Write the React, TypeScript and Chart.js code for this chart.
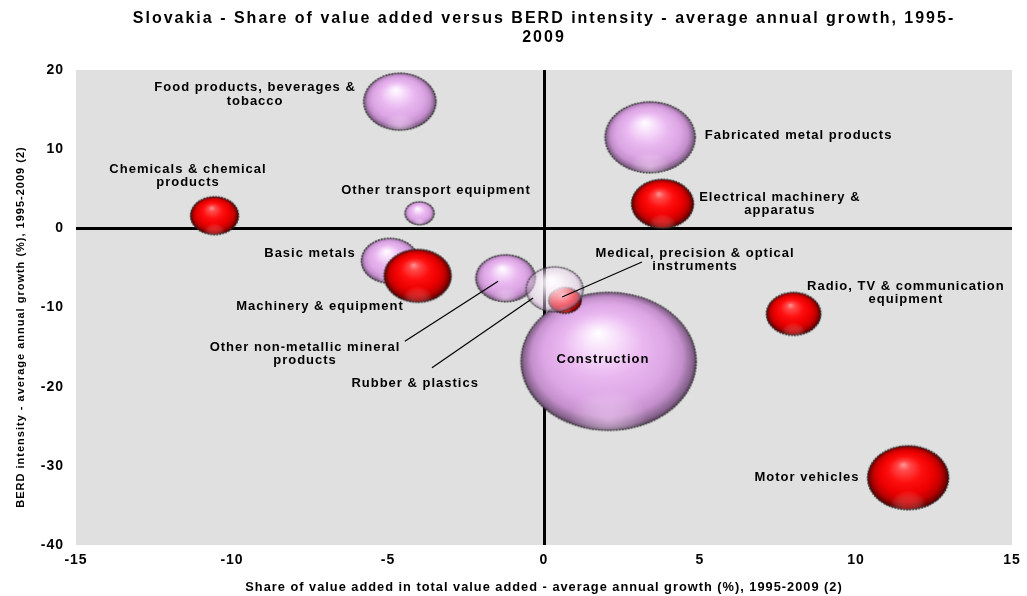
import React, { useEffect, useRef } from 'react';
import { Chart, registerables } from 'chart.js';

Chart.register(...registerables);

const FONT = '"Liberation Sans", Arial, Helvetica, sans-serif';

// ---- data ----
const categories = [
  'Construction',
  'Other non-metallic mineral products',
  'Medical, precision & optical instruments',
  'Rubber & plastics',
  'Basic metals',
  'Machinery & equipment',
  'Food products, beverages & tobacco',
  'Chemicals & chemical products',
  'Other transport equipment',
  'Fabricated metal products',
  'Electrical machinery & apparatus',
  'Radio, TV & communication equipment',
  'Motor vehicles',
];
// share of value added - average annual growth (%)
const valueAddedGrowth = [2.07, -1.23, 0.67, 0.34, -4.94, -4.05, -4.62, -10.56, -3.99, 3.4, 3.8, 8.0, 11.67];
// BERD intensity - average annual growth (%)
const berdGrowth = [-16.8, -6.3, -9.1, -7.7, -4.1, -6.0, 16.0, 1.6, 1.9, 11.5, 3.1, -10.8, -31.5];
// bubble size (radius)
const bubbleSize = [69, 23.5, 13, 22.5, 22.5, 26.5, 28.5, 19, 11.5, 35.5, 24.5, 21.5, 32];
// colour group
const colourGroup = ['pink', 'pink', 'red', 'light', 'pink', 'red', 'pink', 'red', 'pink', 'pink', 'red', 'red', 'red'];

// labels (text lines) with anchor in data units
const labelLines = [
  ['Construction'],
  ['Other non-metallic mineral', 'products'],
  ['Medical, precision & optical', 'instruments'],
  ['Rubber & plastics'],
  ['Basic metals'],
  ['Machinery & equipment'],
  ['Food products, beverages &', 'tobacco'],
  ['Chemicals & chemical', 'products'],
  ['Other transport equipment'],
  ['Fabricated metal products'],
  ['Electrical machinery &', 'apparatus'],
  ['Radio, TV & communication', 'equipment'],
  ['Motor vehicles'],
];
const labelX = [1.89, -7.66, 4.84, -4.13, -7.5, -7.18, -9.26, -11.41, -3.46, 8.16, 7.56, 11.6, 8.43];
const labelY = [-16.5, -14.99, -3.12, -19.54, -3.12, -9.81, 17.76, 7.49, 4.84, 11.78, 3.95, -7.29, -31.5];

// leader lines [x1, y1, x2, y2] in data units
const leaderLines = [
  [-4.46, -14.25, -1.47, -6.69],
  [-3.59, -17.6, -0.35, -8.8],
  [3.14, -4.26, 0.58, -8.68],
];

const titleLines = [
  'Slovakia - Share of value added versus BERD intensity - average annual growth, 1995-',
  '2009',
];
const xTitle = 'Share of value added in total value added - average annual growth (%), 1995-2009 (2)';
const yTitle = 'BERD intensity - average annual growth (%), 1995-2009 (2)';

const xMin = -15, xMax = 15, xStep = 5;
const yMin = -40, yMax = 20, yStep = 10;

// ---- styles ----
const ASPECT = 1.27;
const LABEL_LINE_HEIGHT = 13.5;

const gradients: Record<string, [number, string][]> = {
  pink: [
    [0, '#ffffff'],
    [0.18, '#f9e2fc'],
    [0.45, '#eab8f1'],
    [0.7, '#dca6e4'],
    [0.85, '#c48fcc'],
    [0.95, '#86628c'],
    [1, '#3a2a3e'],
  ],
  red: [
    [0, '#ff9a9a'],
    [0.15, '#ff4a4a'],
    [0.4, '#ff1010'],
    [0.65, '#ee0000'],
    [0.82, '#c00000'],
    [0.94, '#700000'],
    [1, '#300000'],
  ],
  light: [
    [0, 'rgba(255,255,255,0.97)'],
    [0.3, 'rgba(253,246,253,0.85)'],
    [0.6, 'rgba(247,232,247,0.6)'],
    [0.82, 'rgba(236,212,238,0.45)'],
    [0.94, 'rgba(170,140,175,0.6)'],
    [1, 'rgba(80,60,85,0.85)'],
  ],
};

function makeBubble(r: number, group: string): HTMLCanvasElement {
  const ry = r;
  const rx = r * ASPECT;
  const pad = 2;
  const c = document.createElement('canvas');
  c.width = Math.ceil(2 * rx + 2 * pad);
  c.height = Math.ceil(2 * ry + 2 * pad);
  const g = c.getContext('2d')!;
  g.translate(c.width / 2, c.height / 2);
  g.save();
  g.scale(rx / ry, 1);
  const grad = g.createRadialGradient(-0.12 * ry, -0.42 * ry, 0, 0, 0, ry * 1.02);
  gradients[group].forEach(([o, col]) => grad.addColorStop(o, col));
  g.fillStyle = grad;
  g.beginPath();
  g.arc(0, 0, ry, 0, Math.PI * 2);
  g.fill();
  if (group !== 'light') {
    // soft reflection near the bottom
    const glow = g.createRadialGradient(0, ry * 0.85, 0, 0, ry * 0.85, ry * 0.45);
    glow.addColorStop(0, group === 'red' ? 'rgba(255,60,60,0.45)' : 'rgba(255,225,255,0.45)');
    glow.addColorStop(1, 'rgba(255,255,255,0)');
    g.globalCompositeOperation = 'source-atop';
    g.fillStyle = glow;
    g.fillRect(-ry, 0, ry * 2, ry);
  }
  g.restore();
  g.globalCompositeOperation = 'source-over';
  g.beginPath();
  g.ellipse(0, 0, rx, ry, 0, 0, Math.PI * 2);
  g.lineWidth = 1.4;
  g.strokeStyle = group === 'light' ? 'rgba(60,60,60,0.8)' : 'rgba(45,45,45,0.9)';
  g.setLineDash([2, 1]);
  g.stroke();
  return c;
}

const plotBackground = {
  id: 'plotBackground',
  beforeDraw(chart: any) {
    const { ctx, chartArea: a } = chart;
    ctx.save();
    ctx.fillStyle = '#e0e0e0';
    ctx.fillRect(a.left, a.top, a.right - a.left, a.bottom - a.top);
    ctx.restore();
    ctx.letterSpacing = '1px';
  },
};

const annotations = {
  id: 'annotations',
  afterDatasetsDraw(chart: any) {
    const { ctx, scales } = chart;
    const x = scales.x, y = scales.y;
    ctx.save();
    ctx.strokeStyle = '#000';
    ctx.lineWidth = 1.2;
    leaderLines.forEach(([x1, y1, x2, y2]) => {
      ctx.beginPath();
      ctx.moveTo(x.getPixelForValue(x1), y.getPixelForValue(y1));
      ctx.lineTo(x.getPixelForValue(x2), y.getPixelForValue(y2));
      ctx.stroke();
    });
    ctx.letterSpacing = '1px';
    ctx.font = `bold 13px ${FONT}`;
    ctx.fillStyle = '#000';
    ctx.textAlign = 'center';
    ctx.textBaseline = 'middle';
    labelLines.forEach((lines, i) => {
      const px = x.getPixelForValue(labelX[i]);
      const py = y.getPixelForValue(labelY[i]);
      lines.forEach((ln, j) => ctx.fillText(ln, px, py + j * LABEL_LINE_HEIGHT));
    });
    ctx.restore();
  },
  afterDraw(chart: any) {
    const { ctx, chartArea: a } = chart;
    ctx.save();
    ctx.fillStyle = '#000';
    ctx.textAlign = 'center';
    ctx.textBaseline = 'middle';
    ctx.letterSpacing = '2px';
    ctx.font = `bold 16px ${FONT}`;
    const cx = (a.left + a.right) / 2;
    ctx.fillText(titleLines[0], cx, 19);
    ctx.fillText(titleLines[1], cx, 38);
    ctx.letterSpacing = '1px';
    ctx.font = `bold 11px ${FONT}`;
    ctx.translate(21, 327);
    ctx.rotate(-Math.PI / 2);
    ctx.fillText(yTitle, 0, 0);
    ctx.restore();
  },
};

export default function App() {
  const ref = useRef<HTMLCanvasElement>(null);
  useEffect(() => {
    document.body.style.margin = '0';
    const canvas = ref.current!;
    const images = categories.map((_, i) => makeBubble(bubbleSize[i], colourGroup[i]));
    const tickFont = { family: FONT, size: 14, weight: 'bold' as const };
    const zeroGrid = {
      drawTicks: false,
      lineWidth: 3,
      color: (c: any) => (c.tick && c.tick.value === 0 ? '#000' : 'rgba(0,0,0,0)'),
    };
    const chart = new Chart(canvas, {
      type: 'bubble',
      data: {
        datasets: [
          {
            label: 'Industries',
            data: categories.map((_, i) => ({ x: valueAddedGrowth[i], y: berdGrowth[i], r: bubbleSize[i] })),
            pointStyle: (c: any) => images[c.dataIndex ?? 0],
            backgroundColor: 'rgba(0,0,0,0)',
            borderWidth: 0,
            clip: false,
          } as any,
        ],
      },
      options: {
        responsive: true,
        maintainAspectRatio: false,
        devicePixelRatio: 1,
        animation: false,
        layout: { autoPadding: false, padding: { top: 70, right: 15, left: 0, bottom: 0 } },
        plugins: { legend: { display: false }, tooltip: { enabled: false }, title: { display: false } },
        scales: {
          x: {
            type: 'linear',
            min: xMin,
            max: xMax,
            ticks: { stepSize: xStep, color: '#000', font: tickFont, padding: 7 },
            grid: zeroGrid,
            border: { display: false },
            title: {
              display: true,
              text: xTitle,
              color: '#000',
              font: { family: FONT, size: 12.8, weight: 'bold' },
              padding: { top: 0, bottom: 1 },
            },
            afterFit: (s: any) => {
              s.height = 51;
            },
          },
          y: {
            type: 'linear',
            min: yMin,
            max: yMax,
            ticks: { stepSize: yStep, color: '#000', font: tickFont, padding: 12 },
            grid: zeroGrid,
            border: { display: false },
            afterFit: (s: any) => {
              s.width = 76;
            },
          },
        },
      } as any,
      plugins: [plotBackground, annotations],
    });
    return () => chart.destroy();
  }, []);
  return (
    <div style={{ position: 'relative', width: 1027, height: 596 }}>
      <canvas ref={ref} />
    </div>
  );
}
